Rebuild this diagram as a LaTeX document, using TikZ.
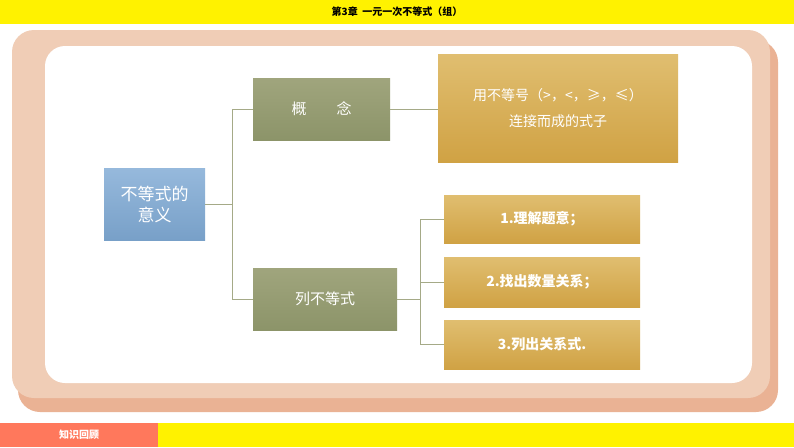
\documentclass[tikz,border=0pt]{standalone}
\usepackage{fontspec}
\setmainfont{Noto Sans CJK SC}
\definecolor{grn1}{RGB}{160,165,125}\definecolor{grn2}{RGB}{140,148,105}
\definecolor{gld1}{RGB}{224,190,112}\definecolor{gld2}{RGB}{208,162,68}
\definecolor{lnk}{RGB}{165,170,135}
\definecolor{frm1}{RGB}{234,178,148}\definecolor{frm2}{RGB}{240,205,182}
\definecolor{ftc}{RGB}{255,120,92}
\definecolor{blu1}{RGB}{150,185,220}\definecolor{blu2}{RGB}{120,160,200}
\begin{document}
\begin{tikzpicture}[x=1pt,y=-1pt,
  box/.style={draw=none,inner sep=0pt,text=white,font=\fontsize{15}{19}\selectfont,align=center},
  green/.style={box,top color=grn1,bottom color=grn2},
  gold/.style={box,top color=gld1,bottom color=gld2},
  link/.style={draw=lnk,line width=0.8pt}]
\useasboundingbox (0,0) rectangle (794,447);
\fill[white] (0,0) rectangle (794,447);
\fill[yellow] (0,0) rectangle (794,24);
\node[font=\bfseries\fontsize{10}{12}\selectfont] (title) at (397,12) {第3章\ \ 一元一次不等式（组）};
\fill[yellow] (0,423) rectangle (794,447);
\fill[ftc] (0,423) rectangle (158,447);
\node[text=white,font=\bfseries\fontsize{10}{12}\selectfont] (ft) at (79,435) {知识回顾};
\fill[rounded corners=22pt,frm1] (18,40) rectangle (778,412);
\fill[rounded corners=22pt,frm2] (12,30) rectangle (770,398);
\fill[rounded corners=20pt,white] (45,46) rectangle (752,383);
\node[box,top color=blu1,bottom color=blu2,minimum width=101pt,minimum height=72pt,font=\fontsize{17}{21}\selectfont] (m) at (154.5,204) {不等式的\\意义};
\node[green,minimum width=137pt,minimum height=62pt] (c) at (321.5,109) {概\qquad 念};
\node[green,minimum width=144pt,minimum height=62pt] (l) at (325,299) {列不等式};
\node[gold,minimum width=240pt,minimum height=108pt,font=\fontsize{14}{26}\selectfont] (g) at (558,108) {用不等号（>，<，≥，≤）\\连接而成的式子};
\node[gold,minimum width=196pt,minimum height=48pt,font=\bfseries\fontsize{14}{18}\selectfont] (s1) at (542,219) {1.理解题意；};
\node[gold,minimum width=196pt,minimum height=50pt,font=\bfseries\fontsize{14}{18}\selectfont] (s2) at (542,282) {2.找出数量关系；};
\node[gold,minimum width=196pt,minimum height=49pt,font=\bfseries\fontsize{14}{18}\selectfont] (s3) at (542,344.5) {3.列出关系式.};
\coordinate (j1) at (232,204);
\coordinate (j2) at (420,299);
\draw[link] (m.east) -- (j1);
\draw[link] (j1) |- (c.west);
\draw[link] (j1) |- (l.west);
\draw[link] (c.east) -- (g.west |- c.east);
\draw[link] (l.east) -- (j2);
\draw[link] (j2) |- (s1.west);
\draw[link] (j2) |- (s2.west);
\draw[link] (j2) |- (s3.west);
\end{tikzpicture}
\end{document}
